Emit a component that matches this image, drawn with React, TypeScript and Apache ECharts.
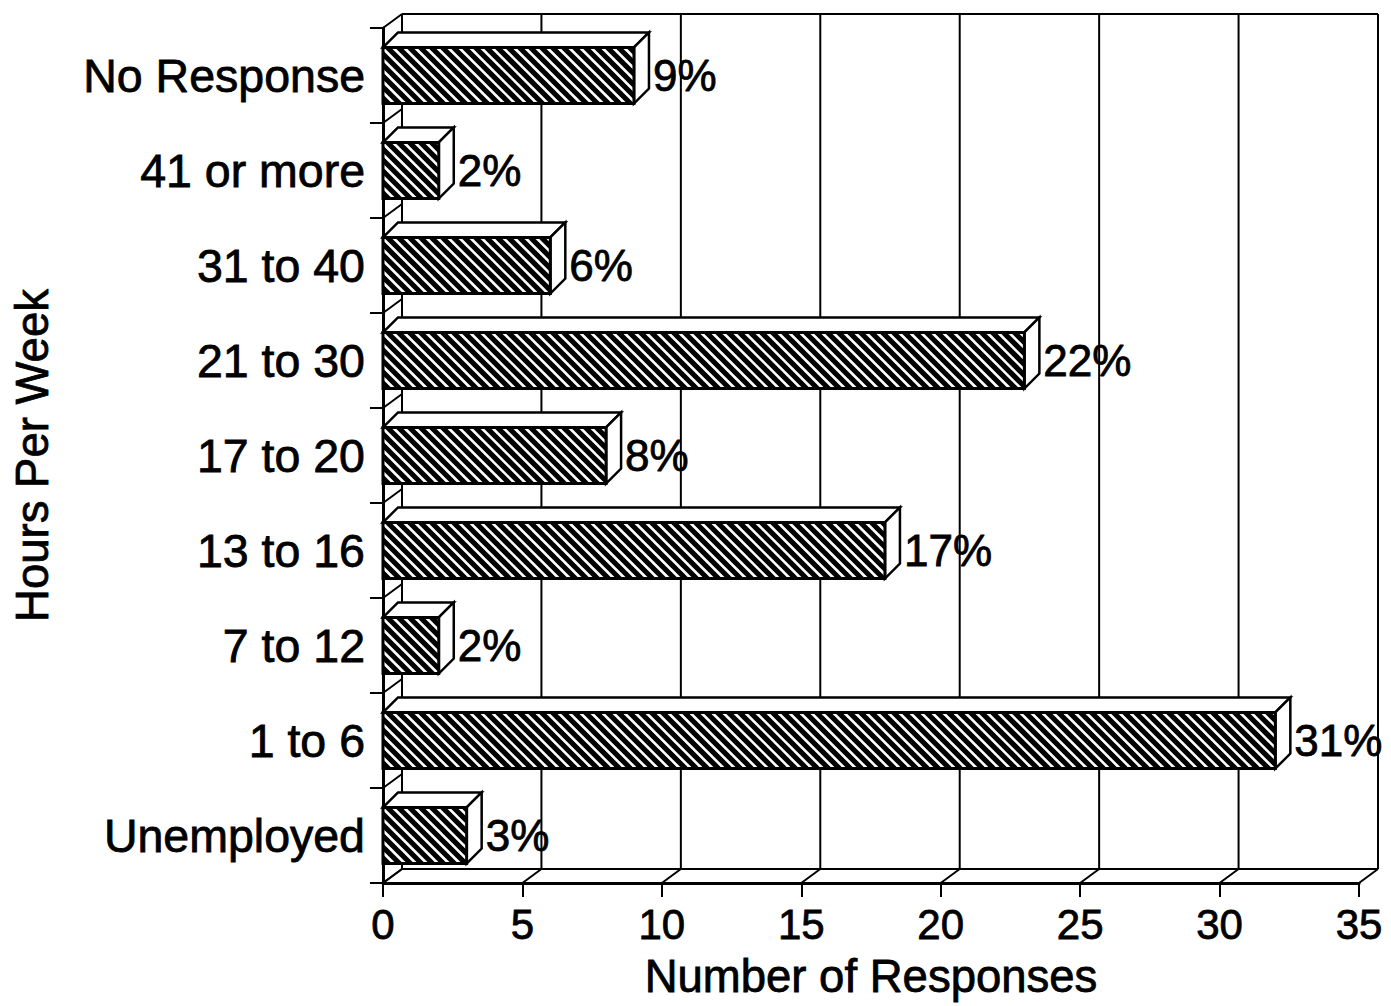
import React, { useEffect, useRef } from "react";
import * as echarts from "echarts";

const categories = [
  "Unemployed",
  "1 to 6",
  "7 to 12",
  "13 to 16",
  "17 to 20",
  "21 to 30",
  "31 to 40",
  "41 or more",
  "No Response",
];
const responses = [3, 32, 2, 18, 8, 23, 6, 2, 9];
const percentLabels = ["3%", "31%", "2%", "17%", "8%", "22%", "6%", "2%", "9%"];
const xTicks = [0, 5, 10, 15, 20, 25, 30, 35];

const FONT = '"Liberation Sans", Arial, Helvetica, sans-serif';
const WALL_DX = 19;
const WALL_DY = -14;
const BAR_DEPTH = 15;
const HATCH_PERIOD = 11;

const textThick = { textBorderColor: "#000", textBorderWidth: 0.8 };

export default function App() {
  const ref = useRef<HTMLDivElement>(null);

  useEffect(() => {
    if (!ref.current) return;
    const chart = echarts.init(ref.current, undefined, { renderer: "svg" });

    const ln = (a: number, b: number, c: number, d: number, w = 2) => ({
      type: "line",
      shape: { x1: a, y1: b, x2: c, y2: d },
      style: { stroke: "#000", lineWidth: w, fill: "none" },
    });

    const wallSeries = {
      type: "custom",
      silent: true,
      clip: false,
      z: 1,
      data: [[0, 0]],
      encode: { x: 0, y: 1 },
      renderItem: (params: any, api: any) => {
        const cs = params.coordSys;
        const top = cs.y;
        const bottom = cs.y + cs.height;
        const band = api.size([0, 1])[1];
        const xs = xTicks.map((t) => api.coord([t, 0])[0]);
        const xl = xs[0];
        const xr = xs[xs.length - 1];
        const children: any[] = [];
        children.push(ln(xl + WALL_DX, top + WALL_DY, xl + WALL_DX, bottom + WALL_DY));
        children.push(ln(xl + WALL_DX, top + WALL_DY, xr + WALL_DX, top + WALL_DY));
        children.push(ln(xr + WALL_DX, top + WALL_DY, xr + WALL_DX, bottom + WALL_DY));
        children.push(ln(xl + WALL_DX, bottom + WALL_DY, xr + WALL_DX, bottom + WALL_DY));
        xs.forEach((x, i) => {
          children.push(ln(x, bottom, x + WALL_DX, bottom + WALL_DY));
          if (i > 0 && i < xs.length - 1) {
            children.push(ln(x + WALL_DX, top + WALL_DY, x + WALL_DX, bottom + WALL_DY));
          }
        });
        for (let i = 0; i <= categories.length; i++) {
          const y = top + i * band;
          children.push(ln(xl, y, xl + WALL_DX, y + WALL_DY));
        }
        return { type: "group", children };
      },
    };

    const barSeries = {
      type: "custom",
      clip: false,
      z: 2,
      data: responses.map((v, i) => [v, i]),
      encode: { x: 0, y: 1 },
      renderItem: (params: any, api: any) => {
        const v = api.value(0);
        const c = api.value(1);
        const s = api.coord([0, c]);
        const e = api.coord([v, c]);
        const band = api.size([0, 1])[1];
        const h = band * 0.59;
        const x0 = s[0];
        const x1 = e[0];
        const yc = s[1];
        const y0 = yc - h / 2;
        const y1 = yc + h / 2;
        const H = y1 - y0;
        const d = BAR_DEPTH;
        const hatch: any[] = [];
        for (let cc = x0 - H; cc < x1; cc += HATCH_PERIOD) {
          const sa = Math.max(0, x0 - cc);
          const sb = Math.min(H, x1 - cc);
          if (sb > sa) {
            hatch.push({
              type: "line",
              shape: { x1: cc + sa, y1: y0 + sa, x2: cc + sb, y2: y0 + sb },
              style: { stroke: "#fff", lineWidth: 2.6 },
            });
          }
        }
        return {
          type: "group",
          children: [
            {
              type: "polygon",
              shape: { points: [[x0, y0], [x0 + d, y0 - d], [x1 + d, y0 - d], [x1, y0]] },
              style: { fill: "#fff", stroke: "#000", lineWidth: 2.5 },
            },
            {
              type: "polygon",
              shape: { points: [[x1, y0], [x1 + d, y0 - d], [x1 + d, y1 - d], [x1, y1]] },
              style: { fill: "#fff", stroke: "#000", lineWidth: 2.5 },
            },
            {
              type: "rect",
              shape: { x: x0, y: y0, width: x1 - x0, height: H },
              style: { fill: "#000" },
            },
            ...hatch,
            {
              type: "rect",
              shape: { x: x0, y: y0, width: x1 - x0, height: H },
              style: { fill: "none", stroke: "#000", lineWidth: 3 },
            },
            {
              type: "text",
              x: x1 + d + 4,
              y: yc,
              style: {
                text: percentLabels[params.dataIndex],
                fill: "#000",
                fontSize: 44,
                fontFamily: FONT,
                align: "left",
                verticalAlign: "middle",
                stroke: "#000",
                lineWidth: 0.8,
              },
            },
          ],
        };
      },
    };

    chart.setOption({
      animation: false,
      backgroundColor: "#fff",
      textStyle: { fontFamily: FONT },
      grid: {
        left: 383,
        right: 32,
        top: 28,
        bottom: 123,
        containLabel: false,
        outerBoundsMode: "none",
      },
      xAxis: {
        type: "value",
        min: 0,
        max: 35,
        interval: 5,
        name: "Number of Responses",
        nameLocation: "middle",
        nameGap: 70,
        nameTextStyle: { fontSize: 45.5, color: "#000", fontFamily: FONT, ...textThick },
        axisLine: { show: true, lineStyle: { color: "#000", width: 3 } },
        axisTick: { show: true, length: 14, lineStyle: { color: "#000", width: 2 } },
        axisLabel: { fontSize: 42, color: "#000", margin: 20, fontFamily: FONT, ...textThick },
        splitLine: { show: false },
      },
      yAxis: {
        type: "category",
        data: categories,
        name: "Hours Per Week",
        nameLocation: "middle",
        nameGap: 328,
        nameRotate: 90,
        nameTextStyle: { fontSize: 45.5, color: "#000", fontFamily: FONT, ...textThick },
        axisLine: { show: true, lineStyle: { color: "#000", width: 3 } },
        axisTick: { show: true, length: 13, lineStyle: { color: "#000", width: 2 } },
        axisLabel: { fontSize: 46.5, color: "#000", margin: 18, fontFamily: FONT, ...textThick },
        splitLine: { show: false },
      },
      series: [wallSeries, barSeries],
    });

    return () => {
      chart.dispose();
    };
  }, []);

  return (
    <div
      ref={ref}
      style={{ position: "absolute", left: 0, top: 0, width: 1391, height: 1006 }}
    />
  );
}
